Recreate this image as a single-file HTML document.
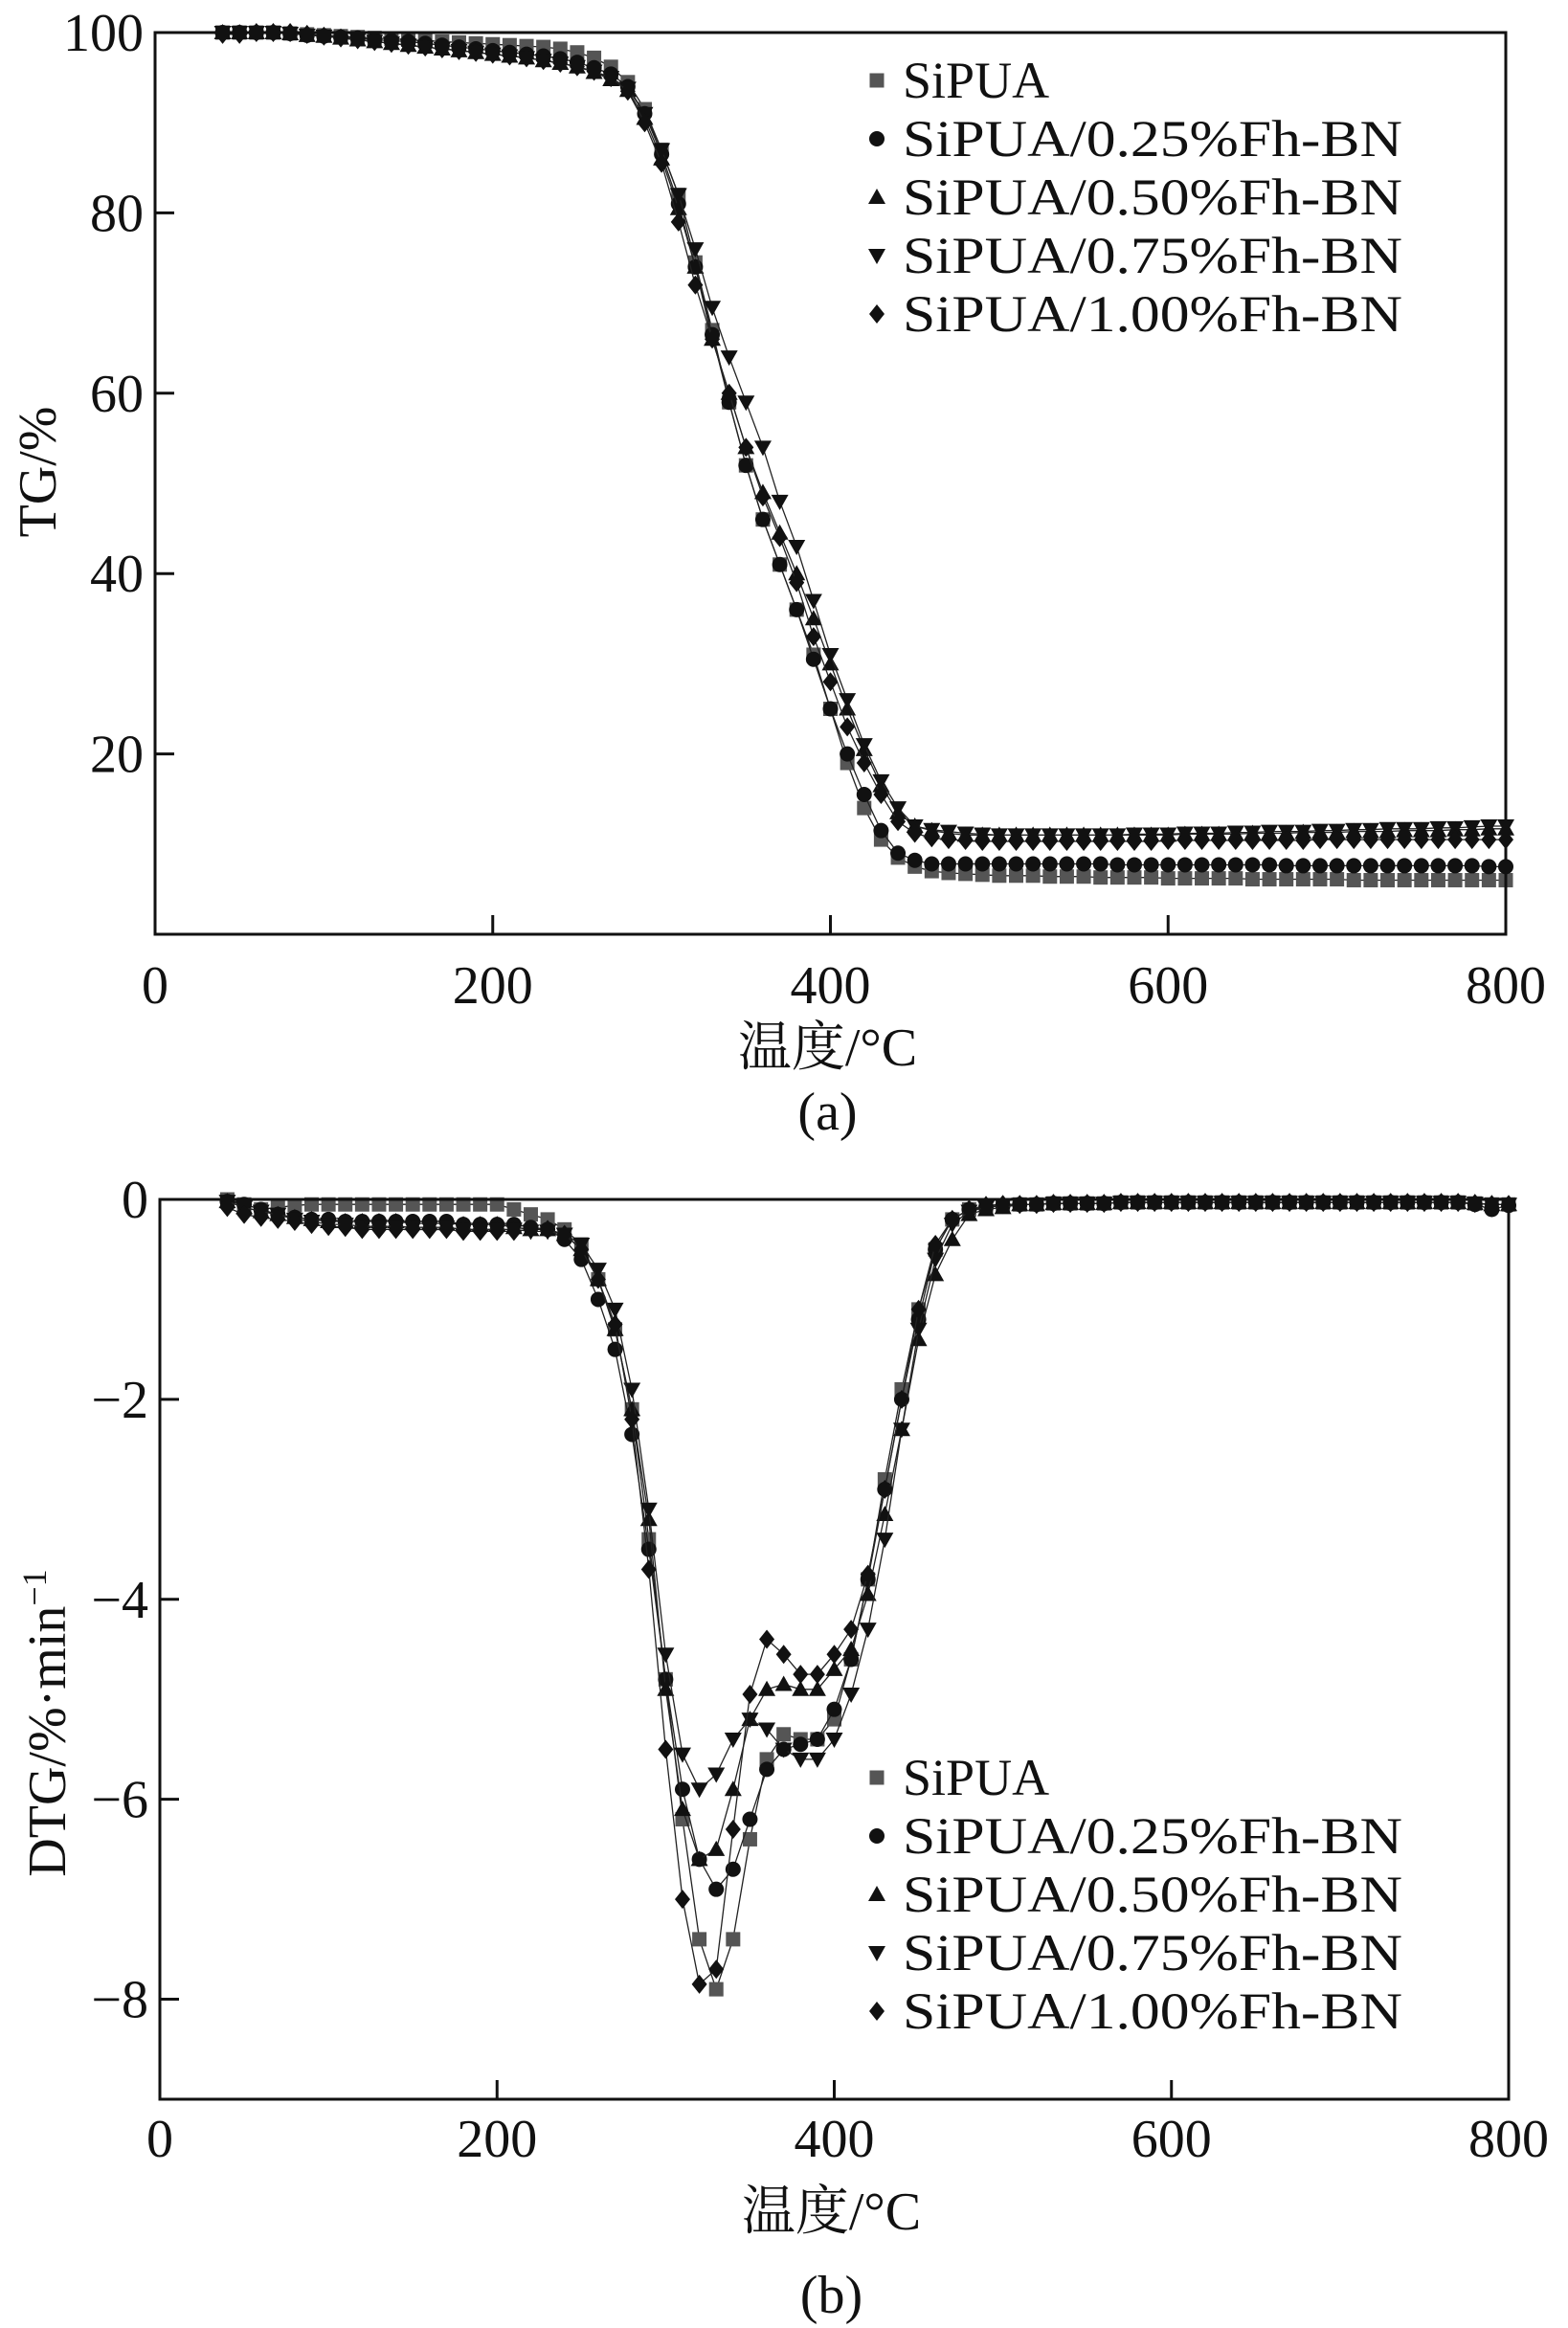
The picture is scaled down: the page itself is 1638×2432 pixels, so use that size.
<!DOCTYPE html>
<html><head><meta charset="utf-8"><style>
html,body{margin:0;padding:0;background:#fff}
svg{display:block}
text{font-family:"Liberation Serif","Noto Serif CJK SC",serif;fill:#111}
</style></head><body>
<svg id="fig" width="1638" height="2432" viewBox="0 0 1638 2432" xmlns="http://www.w3.org/2000/svg"></svg>
<script>
const temps = [];
for (let t = 40; t <= 800; t += 10) temps.push(t);
const seriesNames = ["SiPUA","SiPUA/0.25%Fh-BN","SiPUA/0.50%Fh-BN","SiPUA/0.75%Fh-BN","SiPUA/1.00%Fh-BN"];
const xTicks = [0,200,400,600,800];
const tgTicks = [20,40,60,80,100];
const dtgTicks = [0,-2,-4,-6,-8];
const dtgTickLabels = ["0","\u22122","\u22124","\u22126","\u22128"];

const tgSiPUA = [100,100,100,100,99.9,99.8,99.7,99.6,99.5,99.4,99.3,99.2,99.1,99,98.9,98.8,98.7,98.6,98.5,98.4,98.2,
 97.8,97.2,96.2,94.5,91.5,87,82,74.5,67,59,52,46,41,36,31,25,19,14,10.5,8.5,7.5,7,6.8,6.7,6.6,6.5,6.5,
 6.5,6.4,6.4,6.4,6.3,6.3,6.3,6.3,6.2,6.2,6.2,6.2,6.2,6.1,6.1,6.1,6.1,6.1,6.1,6,6,6,6,6,6,6,6,6,6];
const tg025 = [100,100,100,100,99.9,99.7,99.6,99.5,99.4,99.2,99.1,99,98.8,98.6,98.4,98.2,98,97.8,97.6,97.4,97.1,
 96.7,96.1,95.4,94,91,86.5,81,74,66.5,59,52,46,41,36,30.5,25,20,15.5,11.5,9,8.2,7.8,7.8,7.8,7.8,7.8,7.8,
 7.8,7.8,7.8,7.8,7.8,7.7,7.7,7.7,7.7,7.7,7.7,7.7,7.7,7.7,7.7,7.6,7.6,7.6,7.6,7.6,7.6,7.6,7.6,7.6,7.6,7.6,7.6,7.5,7.5];
const tg050 = [100,100,100,100,99.9,99.7,99.6,99.4,99.2,99,98.8,98.6,98.4,98.2,98,97.8,97.6,97.4,97.2,96.9,96.6,
 96.2,95.6,94.8,93.6,90.5,86,80.5,74,66,60,54,49,44.5,40,35,30,25,20.5,16.5,13.5,12,11.5,11.2,11,11,11,11,
 11,11,11,11,11,11,11,11,11,11.1,11.1,11.1,11.1,11.2,11.2,11.2,11.3,11.3,11.3,11.4,11.4,11.4,11.5,11.5,11.5,11.6,11.6,11.7,11.7];
const tg075 = [100,100,100,100,99.9,99.7,99.6,99.4,99.2,99,98.8,98.6,98.4,98.2,98,97.8,97.6,97.4,97.2,96.9,96.6,
 96.2,95.7,95,93.8,91,87,82,76,69.5,64,59,54,48,43,37,31,26,21,17,14,12,11.6,11.4,11.2,11.1,11,11,
 11,11,11,11,11,11,11.1,11.1,11.1,11.2,11.2,11.2,11.3,11.3,11.4,11.4,11.4,11.5,11.5,11.6,11.6,11.7,11.7,11.7,11.8,11.8,11.9,12,12];
const tg100 = [99.8,99.8,100,100,100,99.8,99.6,99.4,99.2,99,98.8,98.6,98.4,98.2,98,97.8,97.6,97.4,97.2,96.9,96.6,
 96.2,95.7,95,93.5,90,85.5,79,72,66,60,54,48.5,44,39,33,28,23,19,15.5,12.5,11.2,10.7,10.5,10.4,10.3,10.3,10.3,
 10.3,10.3,10.3,10.3,10.3,10.3,10.3,10.3,10.4,10.4,10.4,10.4,10.4,10.4,10.4,10.4,10.4,10.5,10.5,10.5,10.5,10.5,10.5,10.5,10.5,10.5,10.5,10.5,10.5];

const dtgSiPUA = [0,-0.05,-0.1,-0.08,-0.06,-0.05,-0.05,-0.05,-0.05,-0.05,-0.05,-0.05,-0.05,-0.05,-0.05,-0.05,-0.05,-0.1,-0.15,-0.2,
 -0.3,-0.45,-0.8,-1.3,-2.1,-3.4,-4.8,-6.2,-7.4,-7.9,-7.4,-6.4,-5.6,-5.35,-5.4,-5.4,-5.2,-4.6,-3.8,-2.8,-1.9,-1.1,-0.5,-0.2,-0.1,-0.08,-0.06,
 -0.05,-0.05,-0.04,-0.04,-0.04,-0.04,-0.03,-0.03,-0.03,-0.03,-0.03,-0.03,-0.03,-0.03,-0.03,-0.03,-0.03,-0.03,-0.03,-0.03,-0.03,-0.03,-0.03,-0.03,-0.03,-0.03,-0.03,-0.04,-0.05,-0.05];
const dtg025 = [-0.02,-0.05,-0.1,-0.15,-0.18,-0.2,-0.2,-0.22,-0.22,-0.22,-0.22,-0.22,-0.22,-0.22,-0.25,-0.25,-0.25,-0.25,-0.28,-0.3,
 -0.4,-0.6,-1.0,-1.5,-2.35,-3.5,-4.8,-5.9,-6.6,-6.9,-6.7,-6.2,-5.7,-5.5,-5.45,-5.4,-5.1,-4.6,-3.8,-2.9,-2,-1.2,-0.5,-0.2,-0.1,-0.08,-0.06,
 -0.05,-0.05,-0.04,-0.04,-0.04,-0.04,-0.03,-0.03,-0.03,-0.03,-0.03,-0.03,-0.03,-0.03,-0.03,-0.03,-0.03,-0.03,-0.03,-0.03,-0.03,-0.03,-0.03,-0.03,-0.03,-0.03,-0.03,-0.05,-0.1,-0.06];
const dtg050 = [-0.02,-0.08,-0.12,-0.15,-0.18,-0.2,-0.22,-0.22,-0.22,-0.22,-0.22,-0.24,-0.24,-0.24,-0.25,-0.25,-0.25,-0.28,-0.3,-0.3,
 -0.35,-0.5,-0.8,-1.3,-2.1,-3.2,-4.9,-6.1,-6.6,-6.5,-5.9,-5.2,-4.9,-4.85,-4.9,-4.9,-4.7,-4.5,-3.95,-3.15,-2.3,-1.4,-0.75,-0.4,-0.15,-0.1,-0.08,
 -0.05,-0.05,-0.04,-0.04,-0.04,-0.04,-0.03,-0.03,-0.03,-0.03,-0.03,-0.03,-0.03,-0.03,-0.03,-0.03,-0.03,-0.03,-0.03,-0.03,-0.03,-0.03,-0.03,-0.03,-0.03,-0.03,-0.03,-0.04,-0.05,-0.05];
const dtg075 = [-0.02,-0.08,-0.12,-0.15,-0.2,-0.22,-0.25,-0.25,-0.27,-0.27,-0.27,-0.28,-0.28,-0.28,-0.3,-0.3,-0.3,-0.3,-0.32,-0.32,
 -0.35,-0.45,-0.7,-1.1,-1.9,-3.1,-4.55,-5.55,-5.9,-5.75,-5.4,-5.2,-5.3,-5.5,-5.6,-5.6,-5.4,-4.95,-4.3,-3.4,-2.3,-1.3,-0.6,-0.25,-0.12,-0.08,-0.06,
 -0.05,-0.05,-0.04,-0.04,-0.04,-0.04,-0.03,-0.03,-0.03,-0.03,-0.03,-0.03,-0.03,-0.03,-0.03,-0.03,-0.03,-0.03,-0.03,-0.03,-0.03,-0.03,-0.03,-0.03,-0.03,-0.03,-0.03,-0.04,-0.05,-0.05];
const dtg100 = [-0.08,-0.15,-0.18,-0.2,-0.22,-0.25,-0.27,-0.28,-0.3,-0.3,-0.3,-0.3,-0.3,-0.3,-0.32,-0.32,-0.32,-0.32,-0.3,-0.3,
 -0.35,-0.5,-0.8,-1.25,-2.2,-3.7,-5.5,-7.0,-7.85,-7.7,-6.3,-4.95,-4.4,-4.55,-4.75,-4.75,-4.55,-4.3,-3.75,-2.9,-2.0,-1.1,-0.45,-0.2,-0.1,-0.06,-0.05,
 -0.05,-0.05,-0.04,-0.04,-0.04,-0.04,-0.03,-0.03,-0.03,-0.03,-0.03,-0.03,-0.03,-0.03,-0.03,-0.03,-0.03,-0.03,-0.03,-0.03,-0.03,-0.03,-0.03,-0.03,-0.03,-0.03,-0.03,-0.04,-0.05,-0.05];

const NS = "http://www.w3.org/2000/svg";
const svg = document.getElementById('fig');
function mk(tag, attrs, parent){const e=document.createElementNS(NS,tag);for(const k in attrs)e.setAttribute(k,attrs[k]);(parent||svg).appendChild(e);return e;}
const kinds = ["square","circle","up","down","diamond"];
const colors = ["#555","#111","#111","#111","#111"];
function marker(g, kind, x, y, col){
  let e;
  if(kind==="square") e=mk('rect',{x:x-7.5,y:y-7.5,width:15,height:15,fill:col},g);
  else if(kind==="circle") e=mk('circle',{cx:x,cy:y,r:8,fill:col},g);
  else if(kind==="up") e=mk('polygon',{points:`${x},${y-9} ${x+9},${y+7} ${x-9},${y+7}`,fill:col},g);
  else if(kind==="down") e=mk('polygon',{points:`${x},${y+9} ${x+9},${y-7} ${x-9},${y-7}`,fill:col},g);
  else e=mk('polygon',{points:`${x},${y-10} ${x+8},${y} ${x},${y+10} ${x-8},${y}`,fill:col},g);
  return e;
}
function chart(cfg){
  const {L,R,T,B,ymin,ymax,series,yTicks,yLabels,legendY,ytitle,ytitleX,ytitleY,xLabY,xTitleY,panelY,panel,name}=cfg;
  const sx=v=>L+(v-0)/(800-0)*(R-L);
  const sy=v=>B-(v-ymin)/(ymax-ymin)*(B-T);
  const g=mk('g',{});
  
  
  series.forEach((vals,si)=>{
    const sg=mk('g',{},g);
    
    
    const pts=vals.map((v,i)=>sx(temps[i]).toFixed(1)+','+sy(v).toFixed(1)).join(' ');
    const pl=mk('polyline',{points:pts,fill:'none',stroke:'#222','stroke-width':1.3},sg);
    
    
    vals.forEach((v,i)=>{const m=marker(sg,kinds[si],sx(temps[i]),sy(v),colors[si]);
      
      });
  });
  const fr=mk('rect',{x:L,y:T,width:R-L,height:B-T,fill:'none',stroke:'#111','stroke-width':3},g);
  
  
  xTicks.forEach(t=>{
    if(t>0&&t<800){const tk=mk('line',{x1:sx(t),x2:sx(t),y1:B,y2:B-20,stroke:'#111','stroke-width':3},g);
      
      }
    const tx=mk('text',{x:sx(t),y:xLabY,'font-size':56,'text-anchor':'middle'},g);
    
    
    tx.textContent=t;
  });
  yTicks.forEach((t,i)=>{
    if(sy(t)>T+2){const tk=mk('line',{x1:L,x2:L+20,y1:sy(t),y2:sy(t),stroke:'#111','stroke-width':3},g);
      
      }
    const tx=mk('text',{x:L-12,y:sy(t)+19,'font-size':56,'text-anchor':'end'},g);
    
    
    tx.textContent=yLabels[i];
  });
  const xt=mk('text',{x:(L+R)/2-3,y:xTitleY,'font-size':56,'text-anchor':'middle'},g);
  
  
  xt.textContent='温度/°C';
  const yt=mk('text',{x:0,y:0,'font-size':56,'text-anchor':'middle',transform:`translate(${ytitleX},${ytitleY}) rotate(-90)`},g);
  
  
  yt.innerHTML=ytitle;
  const pt=mk('text',{x:(L+R)/2-3,y:panelY,'font-size':56,'text-anchor':'middle'},g);
  
  
  pt.textContent=panel;
  const lg=mk('g',{},g);
  
  
  seriesNames.forEach((n,i)=>{
    const y=legendY+i*61;
    const m=marker(lg,kinds[i],916,y,colors[i]);
    
    
    const tx=mk('text',{x:943,y:y+18,'font-size':54},lg);
    if(i>0){tx.setAttribute('textLength',522);tx.setAttribute('lengthAdjust','spacingAndGlyphs');}
    
    
    tx.textContent=n;
  });
}
chart({name:'tg-chart',L:162,R:1573,T:34,B:976,ymin:0,ymax:100,
  series:[tgSiPUA,tg025,tg050,tg075,tg100],yTicks:tgTicks,yLabels:tgTicks.map(String),legendY:84,
  ytitle:'TG/%',ytitleX:58,ytitleY:493,xLabY:1048,xTitleY:1113,panelY:1180,panel:'(a)'});
chart({name:'dtg-chart',L:167,R:1576,T:1253,B:2193,ymin:-9,ymax:0,
  series:[dtgSiPUA,dtg025,dtg050,dtg075,dtg100],yTicks:dtgTicks,yLabels:dtgTickLabels,legendY:1857,
  ytitle:'DTG/%·min<tspan dy="-20" font-size="36">−1</tspan>',ytitleX:68,ytitleY:1800,xLabY:2253,xTitleY:2329,panelY:2416,panel:'(b)'});
</script>
</body></html>
